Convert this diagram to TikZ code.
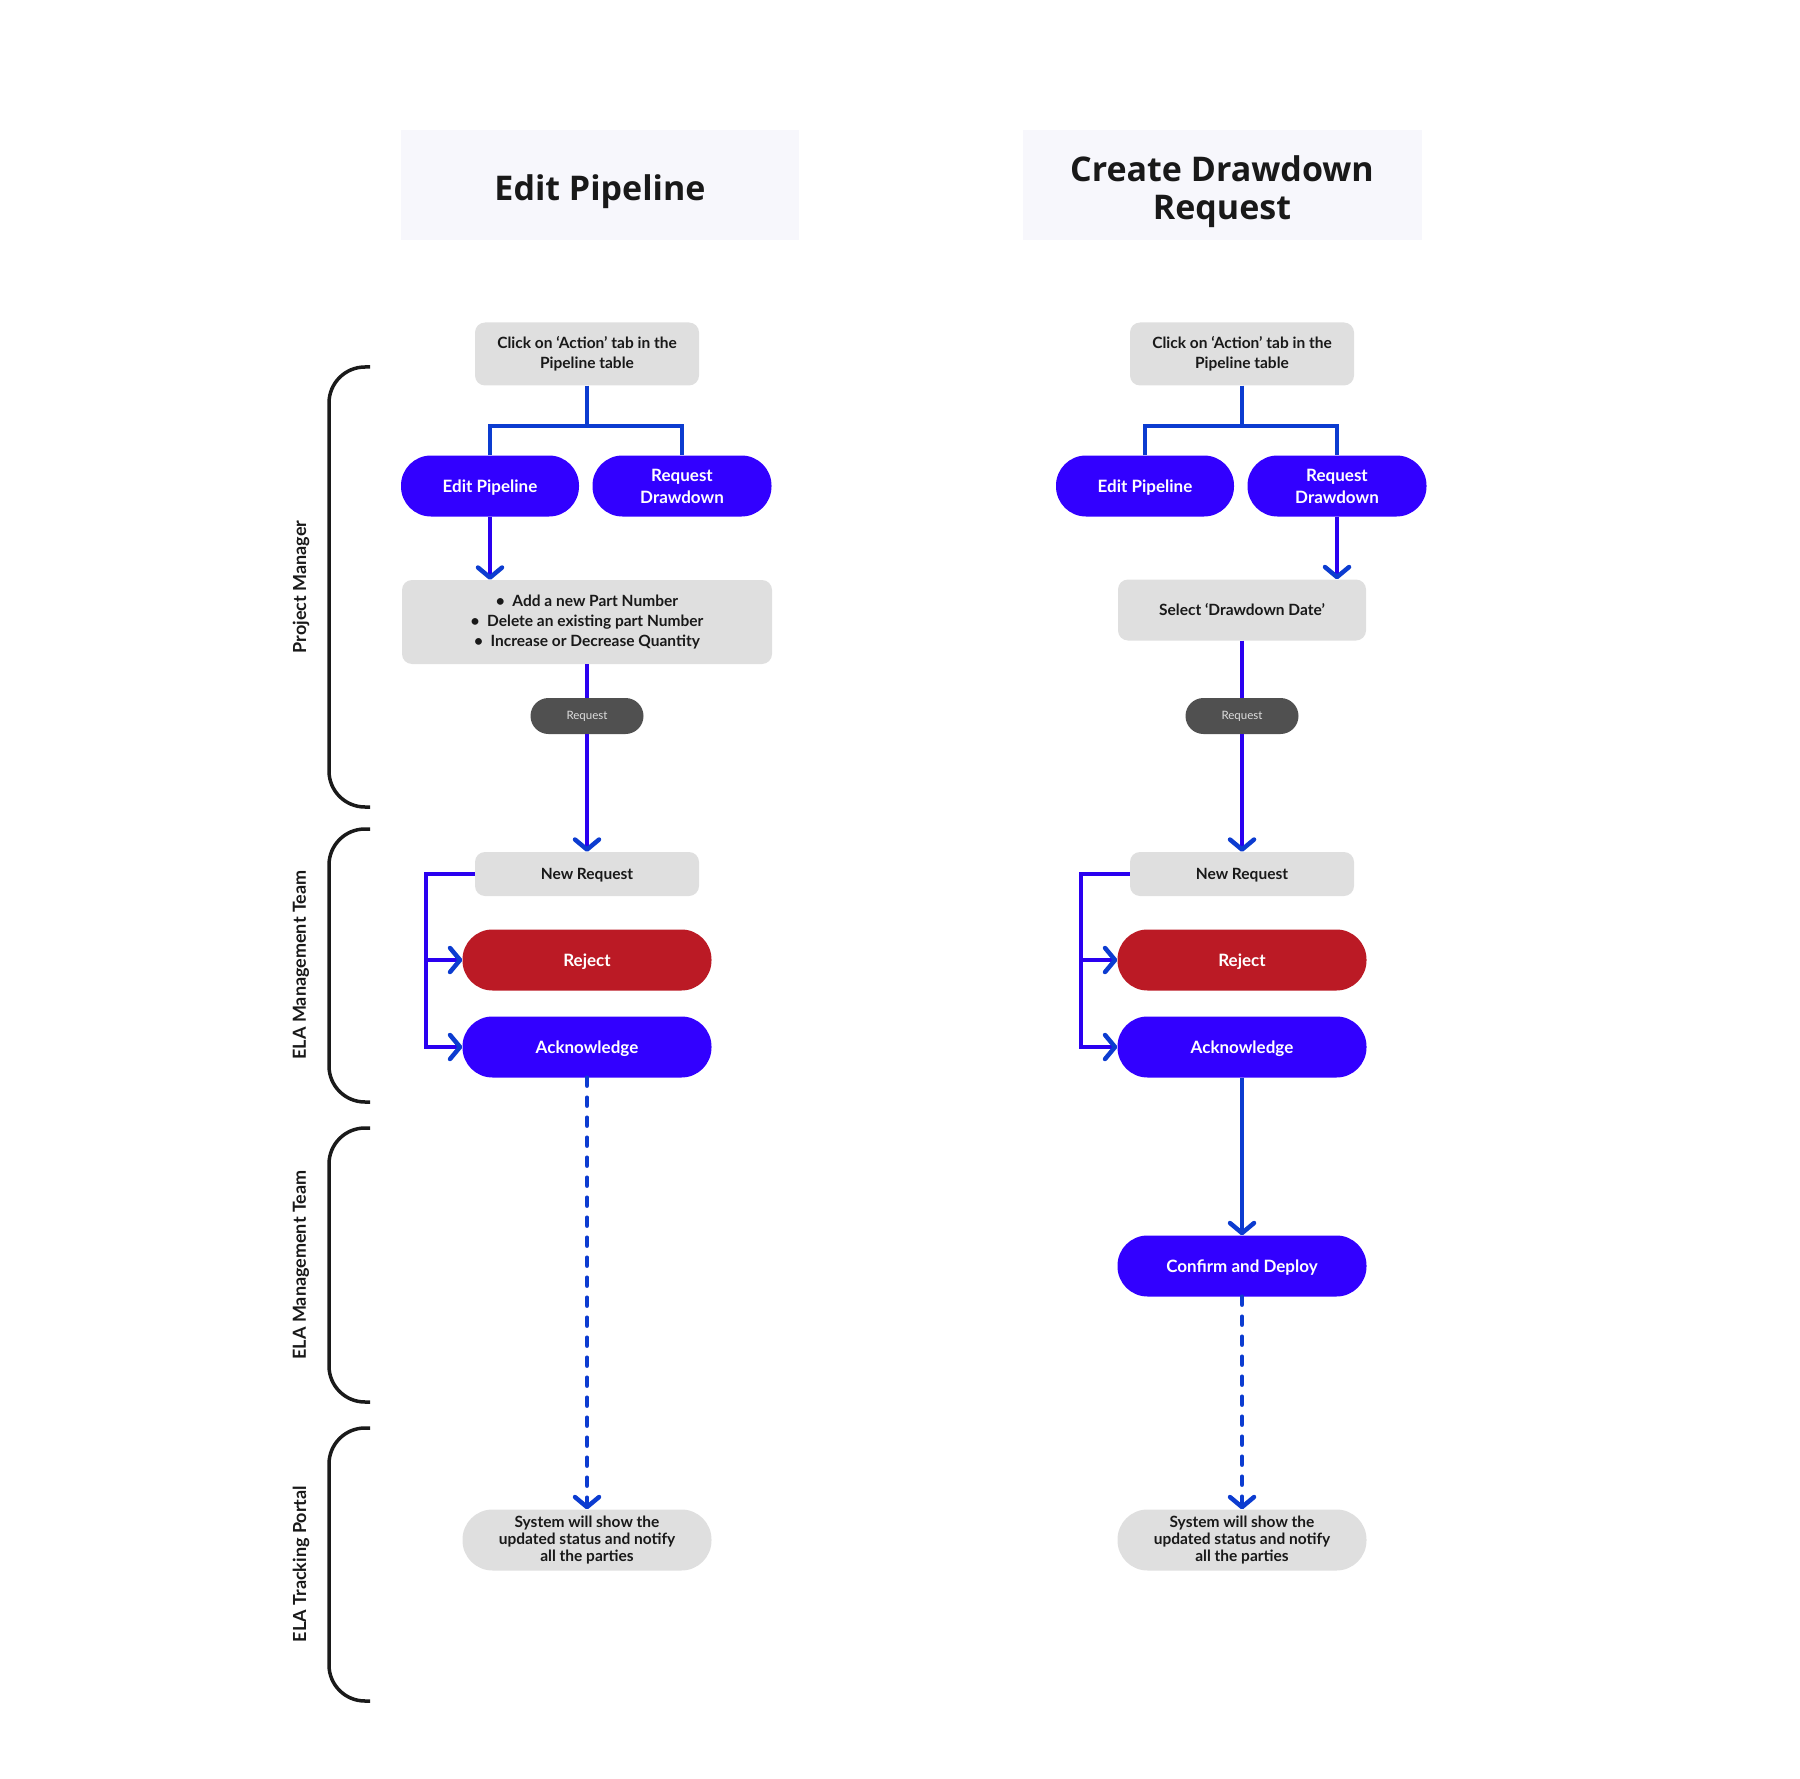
\documentclass[tikz,border=0pt]{standalone}
\usepackage{fontspec}
\setmainfont{Lato}
\newfontfamily\titlefont{Open Sans}
\usetikzlibrary{arrows.meta,positioning}
\definecolor{TitleFill}{RGB}{247,247,252}
\definecolor{BoxGray}{RGB}{223,223,223}
\definecolor{PillBlue}{RGB}{50,0,255}
\definecolor{LineViolet}{RGB}{42,0,240}
\definecolor{LineBlue}{RGB}{12,60,208}
\definecolor{RejectRed}{RGB}{187,26,37}
\definecolor{DarkGray}{RGB}{80,80,80}
\definecolor{LabelGray}{RGB}{222,222,222}
\definecolor{BraceBlack}{RGB}{26,26,26}

\tikzset{
  >={Straight Barb[length=10pt,width=24pt,round,color=LineBlue]},
  titletext/.style={inner sep=0pt, align=center, text=black!90,
    font=\titlefont\bfseries\fontsize{34}{38}\selectfont},
  graybox/.style={fill=BoxGray, rounded corners=10pt, inner sep=0pt, align=center,
    text=black!90, font=\bfseries\fontsize{15.5}{20}\selectfont},
  pill/.style={fill=PillBlue, rounded corners=30pt, minimum height=61pt, inner sep=0pt,
    align=center, text=white, font=\bfseries\fontsize{17}{22}\selectfont},
  endpill/.style={pill, fill=BoxGray, text=black!90, minimum width=249pt,
    font=\bfseries\fontsize{15.5}{17}\selectfont},
  reqpill/.style={fill=DarkGray, rounded corners=18pt, minimum width=113pt, minimum height=36pt,
    inner sep=0pt, text=LabelGray, font=\fontsize{11.5}{13}\selectfont},
  oneline/.style={text height=#1, text depth=0pt},
  oneline/.default=13pt,
  lane/.style={rotate=90, text=black!90, font=\bfseries\fontsize{18}{20}\selectfont},
  lanebrace/.style={draw=BraceBlack, line width=3.5pt, rounded corners=36pt},
  flow/.style={draw=LineViolet, line width=4.5pt},
  branch/.style={draw=LineBlue, line width=4.5pt},
  dashflow/.style={draw=LineBlue, line width=4.5pt, line cap=round, dash pattern=on 8pt off 12pt}
}

\begin{document}
\begin{tikzpicture}[x=1pt,y=-1pt]
          \useasboundingbox (0,0) rectangle (1800,1779);
          % titles
          \fill[TitleFill] (401,130) rectangle (799,240);
          \fill[TitleFill] (1023,130) rectangle (1422,240);
          \node[titletext] (title1) at (600,192) {Edit Pipeline};
          \node[titletext] (title2) at (1222,192) {Create Drawdown\\Request};
          % lanes
          \draw[lanebrace] (370,367) -- (329,367) -- (329,807) -- (370,807);
          \draw[lanebrace] (370,829) -- (329,829) -- (329,1102) -- (370,1102);
          \draw[lanebrace] (370,1128) -- (329,1128) -- (329,1402) -- (370,1402);
          \draw[lanebrace] (370,1428) -- (329,1428) -- (329,1701) -- (370,1701);
          \node[lane] (pm) at (301,587) {Project Manager};
          \node[lane] (ela1) at (301,965) {ELA Management Team};
          \node[lane] (ela2) at (301,1265) {ELA Management Team};
          \node[lane] (portal) at (301,1564) {ELA Tracking Portal};
          % edit pipeline
          \node[graybox, minimum width=224pt, minimum height=63pt] (click1) at (587,354)
            {Click on ‘Action’ tab in the\\Pipeline table};
          \node[pill, oneline, minimum width=178pt] (edit1) at (490,486) {Edit Pipeline};
          \node[pill, minimum width=179pt] (req1) at (682,486) {Request\\Drawdown};
          \node[graybox, minimum width=370pt, minimum height=84pt] (bul1) at (587,622)
            {\textbullet\ \ Add a new Part Number\\\textbullet\ \ Delete an existing part Number\\\textbullet\ \ Increase or Decrease Quantity};
          \node[reqpill] (rq1) at (587,716) {Request};
          \node[graybox, oneline=11.5pt, minimum width=224pt, minimum height=44pt] (new1) at (587,874) {New Request};
          \node[pill, oneline, fill=RejectRed, minimum width=249pt] (rej1) at (587,960) {Reject};
          \node[pill, oneline, minimum width=249pt] (ack1) at (587,1047) {Acknowledge};
          \node[endpill] (sys1) at (587,1540) {System will show the\\updated status and notify\\all the parties};
          % create drawdown request
          \node[graybox, minimum width=224pt, minimum height=63pt] (click2) at (1242,354)
            {Click on ‘Action’ tab in the\\Pipeline table};
          \node[pill, oneline, minimum width=178pt] (edit2) at (1145,486) {Edit Pipeline};
          \node[pill, minimum width=179pt] (req2) at (1337,486) {Request\\Drawdown};
          \node[graybox, oneline=11.5pt, minimum width=248pt, minimum height=61pt] (sel2) at (1242,610)
            {Select ‘Drawdown Date’};
          \node[reqpill] (rq2) at (1242,716) {Request};
          \node[graybox, oneline=11.5pt, minimum width=224pt, minimum height=44pt] (new2) at (1242,874) {New Request};
          \node[pill, oneline, fill=RejectRed, minimum width=249pt] (rej2) at (1242,960) {Reject};
          \node[pill, oneline, minimum width=249pt] (ack2) at (1242,1047) {Acknowledge};
          \node[pill, oneline, minimum width=249pt] (conf2) at (1242,1266) {Confirm and Deploy};
          \node[endpill] (sys2) at (1242,1540) {System will show the\\updated status and notify\\all the parties};
          % forks
          \coordinate (fork1) at (587,426);
          \coordinate (fork2) at (1242,426);
          \draw[branch] (click1.south) -- (fork1);
          \draw[branch] (edit1.north) |- (fork1) -| (req1.north);
          \draw[branch] (click2.south) -- (fork2);
          \draw[branch] (edit2.north) |- (fork2) -| (req2.north);
          % flows
          \draw[flow,->] (edit1.south) -- (edit1.south |- bul1.north);
          \draw[flow] (bul1) -- (rq1);
          \draw[flow,->] (rq1) -- (new1);
          \draw[flow,->] (req2.south) -- (req2.south |- sel2.north);
          \draw[flow] (sel2) -- (rq2);
          \draw[flow,->] (rq2) -- (new2);
          \coordinate (rail1) at (426,874);
          \coordinate (rail2) at (1081,874);
          \draw[flow,->] (new1.west) -- (rail1) |- (ack1.west);
          \draw[flow,->] (rail1 |- rej1.west) -- (rej1.west);
          \draw[flow,->] (new2.west) -- (rail2) |- (ack2.west);
          \draw[flow,->] (rail2 |- rej2.west) -- (rej2.west);
          \draw[branch,->] (ack2) -- (conf2);
          \draw[dashflow,->] (ack1) -- (sys1);
          \draw[dashflow,->] (conf2) -- (sys2);
\end{tikzpicture}
\end{document}
